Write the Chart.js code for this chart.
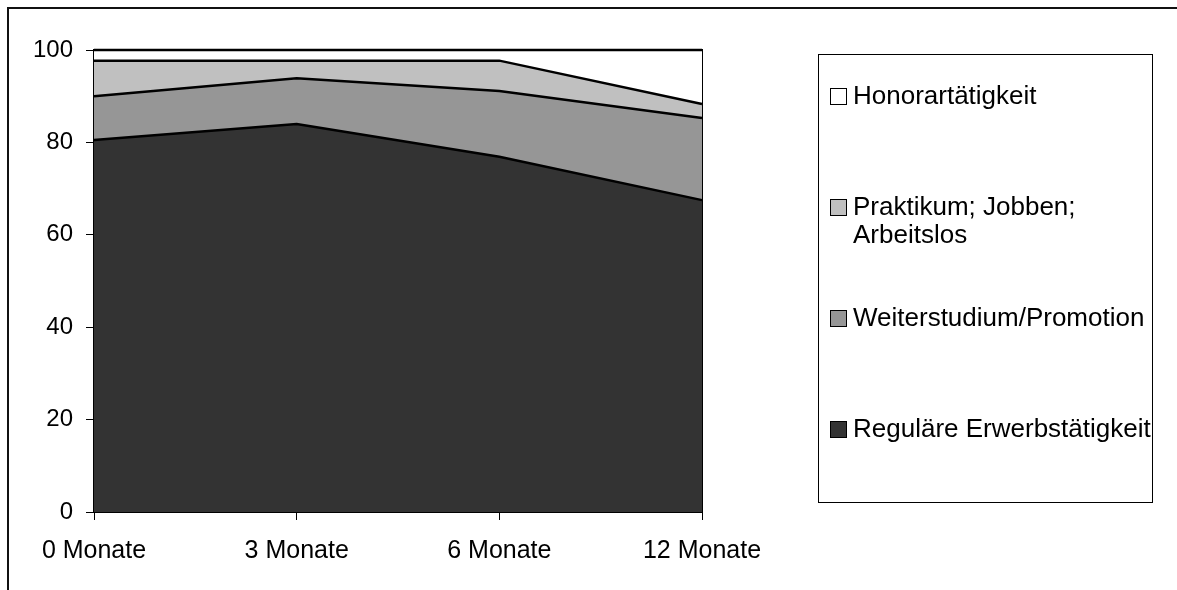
<!DOCTYPE html>
<html><head><meta charset="utf-8">
<script src="https://cdn.jsdelivr.net/npm/chart.js@4/dist/chart.umd.min.js"></script>
<style>
html,body{margin:0;padding:0;background:#fff;width:1177px;height:590px;overflow:hidden;font-family:"Liberation Sans",Arial,sans-serif;}
#frame{position:absolute;left:7px;top:7px;width:1300px;height:700px;border-left:2px solid #111;border-top:2px solid #111;}
#wrap{position:absolute;left:0;top:0;width:1177px;height:590px;}
#legendBox{position:absolute;left:818px;top:54px;width:335px;height:449px;border:1px solid #000;box-sizing:border-box;}
.sw{position:absolute;width:17px;height:17px;border:1px solid #000;box-sizing:border-box;}
.tx{position:absolute;font-size:26px;line-height:28px;color:#000;width:298px;}
</style>
</head><body>
<div id="frame"></div>
<div id="wrap"><canvas id="c" width="1177" height="590"></canvas></div>
<div id="legendBox"></div>
<div id="legend"></div>
<script>
const categories = ['0 Monate', '3 Monate', '6 Monate', '12 Monate'];
const seriesNames = ['Reguläre Erwerbstätigkeit', 'Weiterstudium/Promotion', 'Praktikum; Jobben; Arbeitslos', 'Honorartätigkeit'];
const regulaer = [80.5, 84.0, 76.9, 67.5];
const weiterstudium = [9.5, 9.9, 14.2, 17.8];
const praktikum = [7.7, 3.8, 6.6, 3.0];
const honorar = [2.3, 2.3, 2.3, 11.7];
const yTicks = [0, 20, 40, 60, 80, 100];
const seriesColors = ['#333333', '#969696', '#c0c0c0', '#ffffff'];

const seriesValues = [regulaer, weiterstudium, praktikum, honorar];
const datasets = seriesValues.map((vals, i) => ({
  label: seriesNames[i],
  data: vals,
  backgroundColor: seriesColors[i],
  borderColor: '#000',
  borderWidth: 2.5,
  pointRadius: 0,
  tension: 0,
  fill: i === 0 ? 'origin' : '-1',
  clip: false
}));

const chart = new Chart(document.getElementById('c'), {
  type: 'line',
  data: { labels: categories, datasets },
  options: {
    responsive: false,
    animation: false,
    events: [],
    layout: { padding: { left: 0, top: 50, right: 475, bottom: 0 } },
    plugins: { legend: { display: false }, tooltip: { enabled: false } },
    scales: {
      x: {
        type: 'category',
        offset: false,
        grid: { drawOnChartArea: false, tickLength: 8, color: '#000', lineWidth: 1, offset: false },
        border: { display: true, color: '#000', width: 2 },
        ticks: { color: '#000', font: { family: '"Liberation Sans", Arial, sans-serif', size: 25 }, padding: 16, maxRotation: 0, autoSkip: false },
        afterFit: s => { s.height = 78; }
      },
      y: {
        stacked: true,
        min: 0, max: 100,
        afterBuildTicks: s => { s.ticks = yTicks.map(v => ({ value: v })); },
        grid: { drawOnChartArea: false, tickLength: 8, color: '#000', lineWidth: 1 },
        border: { display: true, color: '#000', width: 2 },
        ticks: { color: '#000', font: { family: '"Liberation Sans", Arial, sans-serif', size: 24 }, padding: 13 },
        afterFit: s => { s.width = 94; }
      },
      y2: {
        position: 'right',
        min: 0, max: 100,
        grid: { drawOnChartArea: false, drawTicks: false },
        border: { display: true, color: '#000', width: 2 },
        ticks: { display: false },
        afterFit: s => { s.width = 0; }
      }
    }
  }
});

// HTML legend built from the chart's datasets (reverse order, top = last series)
const legend = document.getElementById('legend');
const baselines = [104, 215, 326, 437];
const order = datasets.map((d, i) => i).reverse();
order.forEach((dsIndex, k) => {
  const ds = chart.data.datasets[dsIndex];
  const base = baselines[k];
  const sw = document.createElement('div');
  sw.className = 'sw';
  sw.style.left = '830px';
  sw.style.top = (base - 16) + 'px';
  sw.style.background = ds.backgroundColor;
  legend.appendChild(sw);
  const tx = document.createElement('div');
  tx.className = 'tx';
  tx.style.left = '853px';
  tx.style.top = (base - 23) + 'px';
  tx.textContent = ds.label;
  legend.appendChild(tx);
});
</script>
</body></html>
